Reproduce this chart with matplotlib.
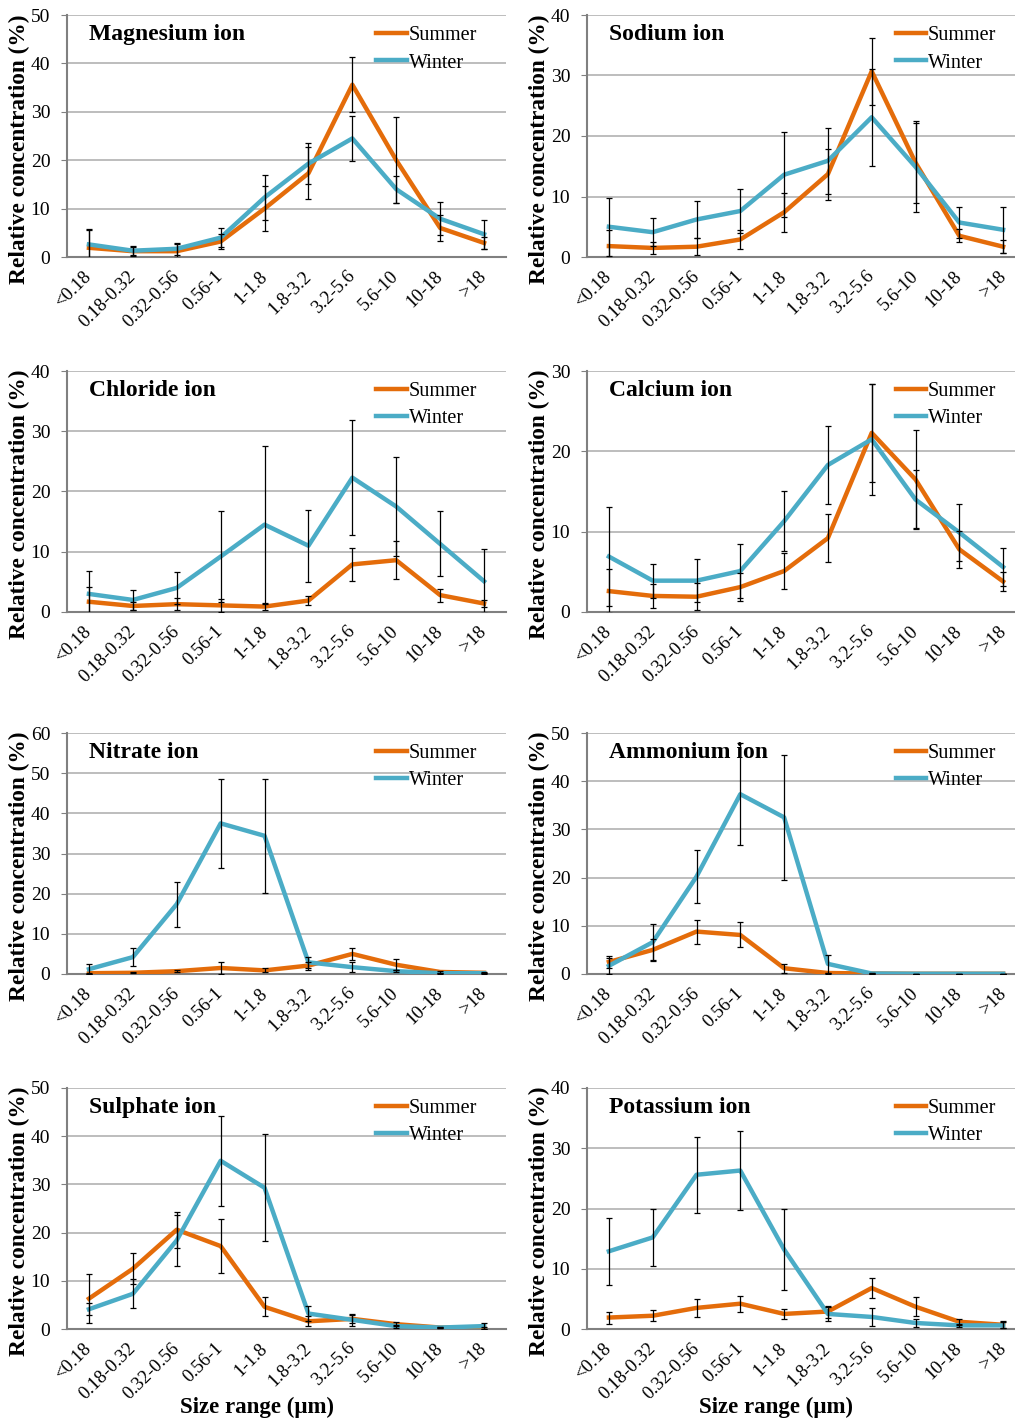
import matplotlib
matplotlib.use("Agg")
import matplotlib.pyplot as plt
import numpy as np

plt.rcParams['font.family'] = ['Liberation Serif', 'DejaVu Serif']

size_ranges = ["<0.18", "0.18-0.32", "0.32-0.56", "0.56-1", "1-1.8", "1.8-3.2",
               "3.2-5.6", "5.6-10", "10-18", ">18"]

ion_names = ["Magnesium ion", "Sodium ion", "Chloride ion", "Calcium ion",
             "Nitrate ion", "Ammonium ion", "Sulphate ion", "Potassium ion"]
y_max = [50, 40, 40, 30, 60, 50, 50, 40]

# Summer / winter mean values (%) and error bar half-widths
mg_summer = [1.9, 1.2, 1.2, 3.2, 10.0, 17.3, 35.6, 20.0, 6.0, 2.9]
mg_summer_err = [3.7, 0.9, 1.5, 1.6, 4.6, 5.4, 5.7, 8.9, 2.6, 1.3]
mg_winter = [2.6, 1.3, 1.7, 4.0, 12.3, 19.3, 24.5, 14.0, 7.9, 4.7]
mg_winter_err = [3.1, 0.9, 1.2, 2.0, 4.6, 4.3, 4.6, 2.8, 3.4, 3.0]

na_summer = [1.8, 1.5, 1.7, 2.9, 7.4, 13.7, 30.7, 15.6, 3.5, 1.7]
na_summer_err = [2.7, 1.0, 1.4, 1.5, 3.2, 4.2, 5.5, 6.6, 1.1, 1.1]
na_winter = [5.0, 4.1, 6.2, 7.6, 13.6, 15.9, 23.1, 14.9, 5.7, 4.5]
na_winter_err = [4.8, 2.3, 3.0, 3.7, 7.0, 5.5, 8.0, 7.5, 2.6, 3.8]

cl_summer = [1.7, 1.0, 1.3, 1.1, 0.9, 1.9, 7.9, 8.6, 2.8, 1.4]
cl_summer_err = [2.4, 0.6, 1.0, 1.1, 0.6, 0.8, 2.8, 3.2, 1.1, 0.6]
cl_winter = [3.0, 2.0, 4.0, 9.2, 14.5, 11.0, 22.3, 17.5, 11.3, 5.1]
cl_winter_err = [3.8, 1.7, 2.7, 7.5, 13.1, 6.0, 9.6, 8.2, 5.4, 5.3]

ca_summer = [2.6, 2.0, 1.9, 3.1, 5.1, 9.2, 22.3, 16.5, 7.8, 3.8]
ca_summer_err = [2.7, 1.5, 1.7, 1.7, 2.2, 3.0, 6.1, 6.1, 2.3, 1.2]
ca_winter = [6.9, 3.9, 3.9, 5.1, 11.3, 18.3, 21.5, 14.0, 9.9, 5.6]
ca_winter_err = [6.2, 2.1, 2.7, 3.4, 3.7, 4.9, 6.9, 3.7, 3.5, 2.4]

no3_summer = [0.2, 0.3, 0.7, 1.5, 0.9, 2.1, 5.0, 2.3, 0.5, 0.3]
no3_summer_err = [0.1, 0.1, 0.2, 1.4, 0.5, 1.0, 1.5, 1.4, 0.2, 0.1]
no3_winter = [1.2, 4.2, 17.4, 37.5, 34.4, 2.9, 1.7, 0.7, 0.2, 0.2]
no3_winter_err = [1.2, 2.2, 5.6, 11.0, 14.2, 1.3, 1.2, 0.3, 0.1, 0.1]

nh4_summer = [2.5, 5.0, 8.8, 8.1, 1.2, 0.2, 0.1, 0.05, 0.05, 0.05]
nh4_summer_err = [1.2, 2.2, 2.5, 2.6, 0.9, 0.1, 0.05, 0.0, 0.0, 0.0]
nh4_winter = [1.7, 6.6, 20.2, 37.3, 32.5, 2.1, 0.1, 0.05, 0.05, 0.05]
nh4_winter_err = [1.6, 3.7, 5.5, 10.6, 13.0, 1.9, 0.05, 0.0, 0.0, 0.0]

so4_summer = [6.3, 12.5, 20.6, 17.2, 4.6, 1.6, 2.1, 1.0, 0.3, 0.3]
so4_summer_err = [5.1, 3.2, 3.7, 5.6, 2.0, 1.0, 0.9, 0.4, 0.1, 0.2]
so4_winter = [4.1, 7.3, 18.4, 34.9, 29.3, 3.2, 1.9, 0.6, 0.3, 0.6]
so4_winter_err = [1.2, 3.0, 5.3, 9.3, 11.1, 1.5, 1.3, 0.3, 0.1, 0.6]

k_summer = [1.9, 2.2, 3.5, 4.2, 2.5, 2.9, 6.8, 3.7, 1.2, 0.7]
k_summer_err = [1.0, 0.9, 1.5, 1.3, 0.8, 1.0, 1.7, 1.6, 0.5, 0.6]
k_winter = [12.9, 15.2, 25.6, 26.3, 13.2, 2.5, 2.0, 1.0, 0.6, 0.6]
k_winter_err = [5.6, 4.7, 6.3, 6.5, 6.7, 1.1, 1.5, 0.6, 0.3, 0.5]

summer_vals = [mg_summer, na_summer, cl_summer, ca_summer, no3_summer, nh4_summer, so4_summer, k_summer]
summer_errs = [mg_summer_err, na_summer_err, cl_summer_err, ca_summer_err, no3_summer_err, nh4_summer_err, so4_summer_err, k_summer_err]
winter_vals = [mg_winter, na_winter, cl_winter, ca_winter, no3_winter, nh4_winter, so4_winter, k_winter]
winter_errs = [mg_winter_err, na_winter_err, cl_winter_err, ca_winter_err, no3_winter_err, nh4_winter_err, so4_winter_err, k_winter_err]

SUMMER_C = "#E46C0A"
WINTER_C = "#4BACC6"
W, H = 1015, 1421
fig = plt.figure(figsize=(W / 100, H / 100), dpi=100)

col_x = [(67, 439), (587, 438)]
row_y = [(15, 257), (371, 612), (733, 974), (1088, 1329)]

x = np.arange(len(size_ranges))
for i, name in enumerate(ion_names):
    r, c = divmod(i, 2)
    x0, w = col_x[c]
    t, b = row_y[r]
    ax = fig.add_axes([x0 / W, 1 - b / H, w / W, (b - t) / H])
    ax.plot(x, summer_vals[i], color=SUMMER_C, lw=3.2, label="Summer", zorder=3,
            solid_joinstyle='round')
    ax.plot(x, winter_vals[i], color=WINTER_C, lw=3.2, label="Winter", zorder=3,
            solid_joinstyle='round')
    ax.errorbar(x, summer_vals[i], yerr=summer_errs[i], fmt='none', ecolor='black',
                elinewidth=0.9, capsize=2.5, capthick=0.9, zorder=4)
    ax.errorbar(x, winter_vals[i], yerr=winter_errs[i], fmt='none', ecolor='black',
                elinewidth=0.9, capsize=2.5, capthick=0.9, zorder=4)
    ax.set_xlim(-0.5, len(size_ranges) - 0.5)
    ax.set_ylim(0, y_max[i])
    ax.set_yticks(np.arange(0, y_max[i] + 1, 10))
    ax.yaxis.grid(True, color='#ABABAB', lw=1.1)
    ax.set_axisbelow(True)
    for s in ['top', 'right']:
        ax.spines[s].set_visible(False)
    ax.spines['left'].set_color('#808080')
    ax.spines['left'].set_linewidth(1.5)
    ax.spines['bottom'].set_color('#808080')
    ax.spines['bottom'].set_linewidth(1.5)
    ax.tick_params(axis='y', labelsize=14, length=4, color='#808080', pad=8)
    ax.tick_params(axis='x', length=0, pad=12)
    ax.set_xticks(x)
    ax.set_xticklabels(size_ranges, rotation=45, ha='right', va='center',
                       rotation_mode='anchor', fontsize=13.5)
    ax.set_ylabel("Relative concentration (%)", fontsize=16.8, fontweight='bold')
    ax.yaxis.set_label_coords(-0.084, 0.446)
    ax.text(0.05, 0.92, name, transform=ax.transAxes, fontsize=17,
            fontweight='bold', va='center', ha='left')
    ax.legend(loc='upper left', bbox_to_anchor=(0.705, 0.955), frameon=False,
              fontsize=14.5, handlelength=1.5, handletextpad=0.1, labelspacing=0.42,
              borderpad=0, borderaxespad=0)
    if r == 3:
        ax.set_xlabel("Size range (μm)", fontsize=16.5, fontweight='bold')
        ax.xaxis.set_label_coords(0.432, -0.282)

fig.savefig("out.png", dpi=100)
